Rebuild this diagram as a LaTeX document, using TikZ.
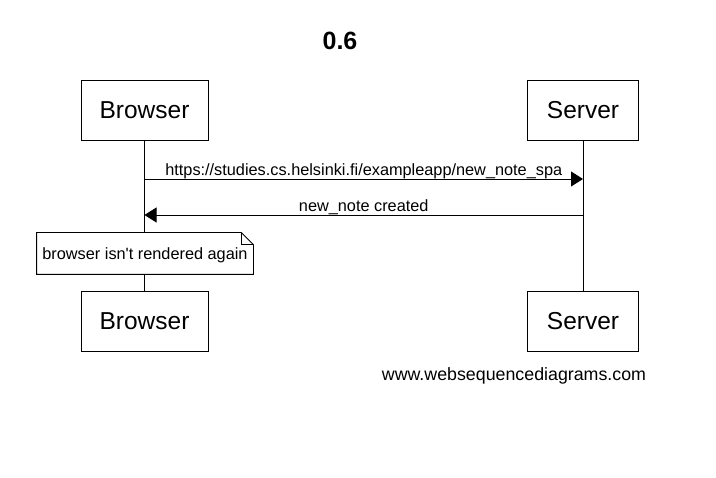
\documentclass[tikz,border=0pt]{standalone}
\usepackage{fontspec}
\setmainfont{Liberation Sans}
\usetikzlibrary{arrows.meta}

\begin{document}
\begin{tikzpicture}[x=1pt, y=-1pt, line width=0.8pt,
    actor/.style={draw, minimum width=127pt, minimum height=60pt, font=\fontsize{24.5}{28}\selectfont},
    msg/.style={font=\fontsize{16.3}{19}\selectfont, inner sep=1.5pt},
    tip/.style={-{Triangle[length=12pt, width=15pt]}}]
                \useasboundingbox (0,0) rectangle (716,478);
                \node[font=\bfseries\fontsize{25}{29}\selectfont] (title) at (340,41) {0.6};
                \node[actor] (b1) at (144.5,110) {Browser};
                \node[actor, minimum width=111pt] (s1) at (583,110) {Server};
                \node[actor] (b2) at (144.5,321) {Browser};
                \node[actor, minimum width=111pt] (s2) at (583,321) {Server};
                \draw (b1) -- (b2) (s1) -- (s2);
                \draw[tip] (b1.south |- 0,179) -- node[msg, above, inner sep=0pt] {https://studies.cs.helsinki.fi/exampleapp/new\_note\_spa} (s1.south |- 0,179);
                \draw[tip] (s1.south |- 0,215) -- node[msg, above, inner sep=0pt] {new\_note created} (b1.south |- 0,215);
                \node[msg, fill=white, minimum width=216pt, minimum height=41pt, text depth=0pt] (note) at (145,253.5) {browser isn\textquotesingle t rendered again};
                \draw (note.north west) -- ([xshift=-12pt]note.north east) -- ([yshift=-12pt]note.north east)
                    -- (note.south east) -- (note.south west) -- cycle;
                \draw ([xshift=-12pt]note.north east) -- ([xshift=-12pt, yshift=-12pt]note.north east)
                    -- ([yshift=-12pt]note.north east);
                \node[font=\fontsize{17.8}{21}\selectfont] (site) at (514,376) {www.websequencediagrams.com};
            \end{tikzpicture}
\end{document}
